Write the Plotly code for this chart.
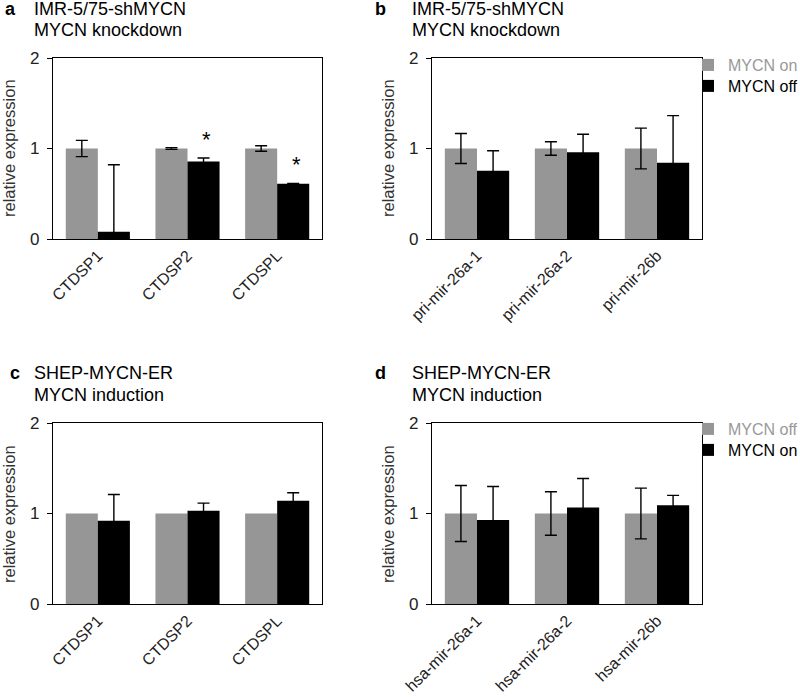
import plotly.graph_objects as go

# ---- data ----
cat_a = ["CTDSP1", "CTDSP2", "CTDSPL"]
a_on = [1.0, 1.0, 1.0]
a_on_err = [0.09, 0.01, 0.03]
a_off = [0.08, 0.855, 0.61]
a_off_err = [0.74, 0.04, 0.005]

cat_b = ["pri-mir-26a-1", "pri-mir-26a-2", "pri-mir-26b"]
b_on = [1.0, 1.0, 1.0]
b_on_err = [0.165, 0.075, 0.225]
b_off = [0.755, 0.958, 0.843]
b_off_err = [0.22, 0.2, 0.52]

cat_c = ["CTDSP1", "CTDSP2", "CTDSPL"]
c_off = [1.0, 1.0, 1.0]
c_on = [0.92, 1.03, 1.14]
c_on_err = [0.29, 0.085, 0.09]

cat_d = ["hsa-mir-26a-1", "hsa-mir-26a-2", "hsa-mir-26b"]
d_off = [1.0, 1.0, 1.0]
d_off_err = [0.31, 0.24, 0.28]
d_on = [0.928, 1.067, 1.09]
d_on_err = [0.37, 0.32, 0.11]

star_a = ["CTDSP2", "CTDSPL"]

GRAY = "#969696"
BLACK = "#000000"
FONT = "Liberation Sans, Arial, sans-serif"

W, H = 800, 697

def px_x(v):
    return v / W

def px_y(v):
    return 1 - v / H

fig = go.Figure()

def err(arr, vals=None):
    if arr is None:
        return None
    d = dict(type="data", array=arr, color="#000000", thickness=1.4, width=6, visible=True)
    if vals is not None:
        d["symmetric"] = False
        d["arrayminus"] = [min(e, v) for e, v in zip(arr, vals)]
    return d

panels = [
    ("x", "y", cat_a, a_on, a_on_err, a_off, a_off_err, "MYCN on", "MYCN off", None, None),
    ("x2", "y2", cat_b, b_on, b_on_err, b_off, b_off_err, "MYCN on", "MYCN off", "legend", "legend2"),
    ("x3", "y3", cat_c, c_off, None, c_on, c_on_err, "MYCN off", "MYCN on", None, None),
    ("x4", "y4", cat_d, d_off, d_off_err, d_on, d_on_err, "MYCN off", "MYCN on", "legend3", "legend4"),
]

for xa, ya, cats, gv, ge, bv, be, gn, bn, lg, lb in panels:
    show = lg is not None
    fig.add_trace(go.Bar(
        x=cats, y=gv, xaxis=xa, yaxis=ya,
        marker=dict(color=GRAY, line=dict(width=0)),
        error_y=err(ge),
        name="<span style='color:#999999'>%s</span>" % gn,
        showlegend=show, **(dict(legend=lg) if lg else {})))
    fig.add_trace(go.Bar(
        x=cats, y=bv, xaxis=xa, yaxis=ya,
        marker=dict(color=BLACK, line=dict(width=0)),
        error_y=err(be, bv),
        name=bn, showlegend=show, **(dict(legend=lb) if lb else {})))

# domains (pixel based)
xl = [px_x(53), px_x(322)]
xr = [px_x(432), px_x(702)]
yt = [px_y(239), px_y(58)]
yb = [px_y(604), px_y(423)]

axis_common = dict(showline=True, linecolor="#000000", linewidth=1.4, mirror=True,
                   showgrid=False, zeroline=False, automargin=False)
xcommon = dict(axis_common, tickangle=-45, ticks="",
               tickfont=dict(family=FONT, size=16, color="#222222"))
ycommon = dict(axis_common, range=[0, 2], tickvals=[0, 1, 2], ticks="outside", ticklen=5,
               tickwidth=1.4, tickcolor="#000000", ticklabelstandoff=4,
               tickfont=dict(family=FONT, size=17, color="#222222"))

def leg(ytop):
    return dict(x=px_x(688), y=px_y(ytop), xanchor="left", yanchor="top",
                font=dict(family=FONT, size=16, color="#000000"),
                bgcolor="rgba(0,0,0,0)", itemwidth=30)

fig.update_layout(
    width=W, height=H,
    margin=dict(l=0, r=0, t=0, b=0, autoexpand=False),
    paper_bgcolor="white", plot_bgcolor="white",
    barmode="group", bargap=0.285, bargroupgap=0,
    xaxis=dict(xcommon, domain=xl, anchor="y"),
    yaxis=dict(ycommon, domain=yt, anchor="x"),
    xaxis2=dict(xcommon, domain=xr, anchor="y2"),
    yaxis2=dict(ycommon, domain=yt, anchor="x2"),
    xaxis3=dict(xcommon, domain=xl, anchor="y3"),
    yaxis3=dict(ycommon, domain=yb, anchor="x3"),
    xaxis4=dict(xcommon, domain=xr, anchor="y4"),
    yaxis4=dict(ycommon, domain=yb, anchor="x4"),
    legend=leg(48), legend2=leg(69), legend3=leg(412), legend4=leg(433),
    font=dict(family=FONT),
)

# y-axis titles
for xp, yc in [(9, 148), (388, 148), (9, 514), (388, 514)]:
    fig.add_annotation(x=px_x(xp), y=px_y(yc), xref="paper", yref="paper",
                       text="relative expression", textangle=-90, showarrow=False,
                       xanchor="center", yanchor="middle",
                       font=dict(family=FONT, size=16.5, color="#333333"))

# titles
titles = [
    ("a", 3, 32, 9, 30, "IMR-5/75-shMYCN", "MYCN knockdown"),
    ("b", 373, 410, 9, 30, "IMR-5/75-shMYCN", "MYCN knockdown"),
    ("c", 8, 32, 373, 395, "SHEP-MYCN-ER", "MYCN induction"),
    ("d", 373, 410, 373, 395, "SHEP-MYCN-ER", "MYCN induction"),
]
for letter, lx, tx, y1, y2, l1, l2 in titles:
    fig.add_annotation(x=px_x(lx), y=px_y(y1), xref="paper", yref="paper",
                       text="<b>%s</b>" % letter, showarrow=False, xanchor="left",
                       yanchor="middle", font=dict(family=FONT, size=18, color="#000000"))
    fig.add_annotation(x=px_x(tx), y=px_y(y1), xref="paper", yref="paper",
                       text=l1, showarrow=False, xanchor="left", yanchor="middle",
                       font=dict(family=FONT, size=18, color="#000000"))
    fig.add_annotation(x=px_x(tx), y=px_y(y2), xref="paper", yref="paper",
                       text=l2, showarrow=False, xanchor="left", yanchor="middle",
                       font=dict(family=FONT, size=18, color="#000000"))

# significance stars above MYCN off bars in panel a
for c in star_a:
    i = cat_a.index(c)
    fig.add_annotation(x=c, y=a_off[i] + a_off_err[i], xref="x", yref="y",
                       text="*", showarrow=False, xshift=19, yshift=19,
                       yanchor="middle", font=dict(family=FONT, size=22, color="#000000"))

fig.write_html("out.html", config={"displayModeBar": False},
               post_script="document.body.style.margin='0';document.body.style.padding='0';")
